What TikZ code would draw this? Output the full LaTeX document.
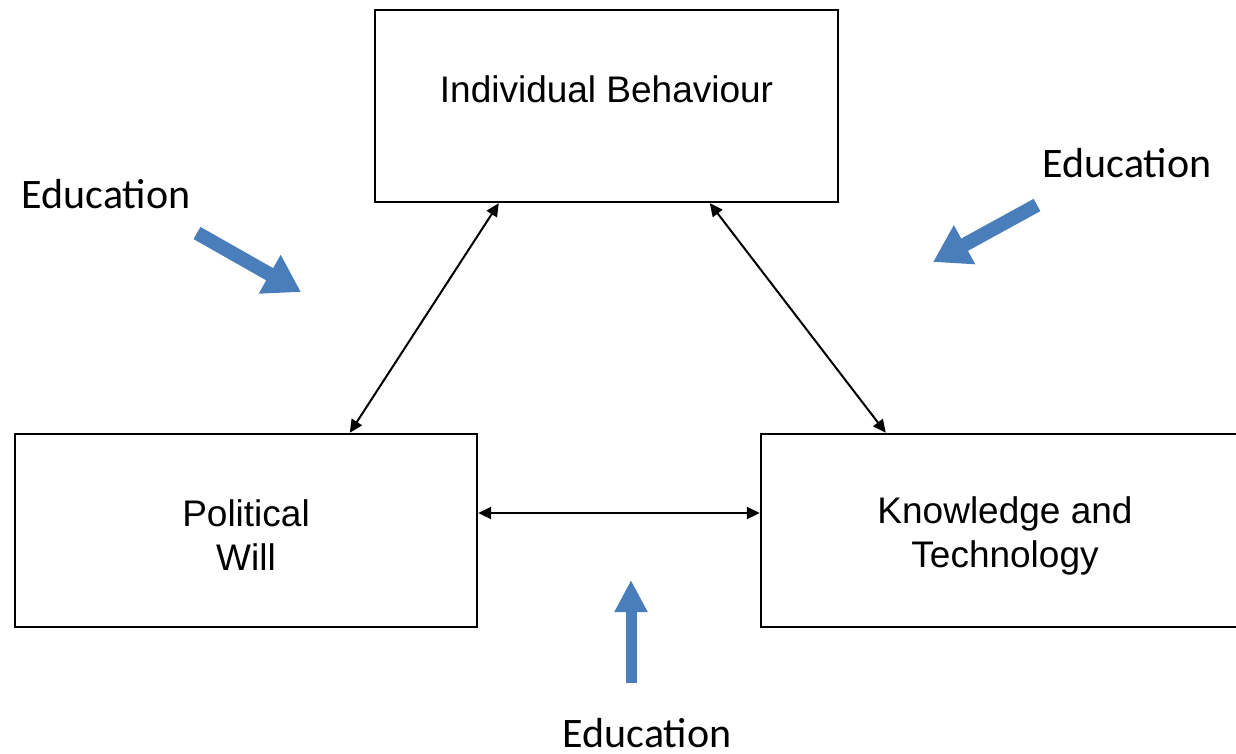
\documentclass[tikz,border=0pt]{standalone}
\usepackage{fontspec}
\setmainfont{Liberation Sans}
\newfontfamily\edufont{Carlito}
\usetikzlibrary{arrows.meta,calc}
\definecolor{edublue}{RGB}{74,126,187}
\tikzset{
  boxfont/.style={font=\fontsize{37}{44}\selectfont, align=center, inner sep=0pt},
  box/.style={draw=black, line width=2.4pt, minimum height=193pt, inner sep=0pt},
  link/.style={line width=2pt, {Triangle[length=13pt,width=12pt]}-{Triangle[length=13pt,width=12pt]}},
  bluearrow/.style={draw=edublue, line width=14pt, -{Triangle[length=36pt,width=42pt]}},
  blueup/.style={draw=edublue, line width=11pt, -{Triangle[length=32pt,width=31pt]}},
  edu/.style={font=\edufont\fontsize{42}{48}\selectfont, inner sep=0pt}
}
\begin{document}
\begin{tikzpicture}[x=1pt,y=-1pt]
\clip (0,0) rectangle (1236,753);
\fill[white] (0,0) rectangle (1236,753);
\node[box, minimum width=463pt, minimum height=192pt] (top) at (606.5,106) {};
\node[boxfont] (toptext) at ([yshift=17pt]top.center) {Individual Behaviour};
\node[box, minimum width=462pt] (left) at (246,530.5) {};
\node[boxfont] (lefttext) at ([yshift=-5pt]left.center) {Political\\Will};
\node[box, minimum width=488pt] (right) at (1005,530.5) {};
\node[boxfont] (righttext) at ([yshift=-5pt]right.center) {Knowledge and\\Technology};

\draw[link] ([xshift=125pt]top.south west) -- ([xshift=336pt]left.north west);
\draw[link] ([xshift=336pt]top.south west) -- ([xshift=126pt]right.north west);
\draw[link] ([yshift=17.5pt]left.east) -- ([yshift=17.5pt]right.west);

\node[edu] (e1) at (106,194) {Education};
\node[edu] (e2) at (1127,163) {Education};
\node[edu] (e3) at (647,733) {Education};

\coordinate (a1s) at (197,233);
\coordinate (a1e) at (301,292);
\coordinate (a2s) at (1037,205);
\coordinate (a2e) at (933,262);
\coordinate (a3s) at (631,683);
\coordinate (a3e) at (631,580);
\draw[bluearrow] (a1s) -- (a1e);
\draw[bluearrow] (a2s) -- (a2e);
\draw[blueup] (a3s) -- (a3e);
\end{tikzpicture}
\end{document}
